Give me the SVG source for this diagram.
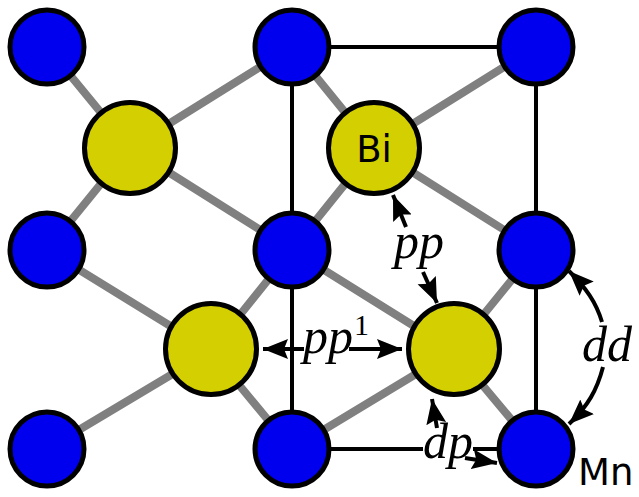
<svg xmlns="http://www.w3.org/2000/svg" width="639" height="497" viewBox="0 0 639 497">
<defs>
<marker id="ah" markerUnits="userSpaceOnUse" markerWidth="28" markerHeight="24" refX="25" refY="12" orient="auto"><path d="M0 2L25 12L0 22L4 12Z" fill="#000"/></marker>
</defs>
<style>
.bond{stroke:#808080;stroke-width:8;fill:none}
.edge{stroke:#000;stroke-width:4;fill:none}
.arr{stroke:#000;stroke-width:4;fill:none;marker-end:url(#ah)}
.mn{fill:#0000ee;stroke:#000;stroke-width:5}
.bi{fill:#d4cf00;stroke:#000;stroke-width:5}
.m{font-family:"Liberation Serif",serif;font-style:italic;font-size:50px;fill:#000}
.l{font-family:"DejaVu Sans",sans-serif;font-size:37px;fill:#000}
</style>
<rect width="639" height="497" fill="#fff"/>
<g id="connectors">
<path class="edge" d="M292 47H536V449H292V47"/>
<path class="bond" d="M47 47L130 148M292 47L130 148M47 250L130 148M292 250L130 148M292 47L374 148M536 47L374 148M292 250L374 148M536 250L374 148M47 250L211 351M292 250L211 351M47 449L211 351M292 449L211 351M292 250L454 351M536 250L454 351M292 449L454 351M536 449L454 351"/>
</g>
<g id="mn1"><circle class="mn" cx="47" cy="47" r="37"/></g>
<g id="mn2"><circle class="mn" cx="292" cy="47" r="37"/></g>
<g id="mn3"><circle class="mn" cx="536" cy="47" r="37"/></g>
<g id="mn4"><circle class="mn" cx="47" cy="250" r="37"/></g>
<g id="mn5"><circle class="mn" cx="292" cy="250" r="37"/></g>
<g id="mn6"><circle class="mn" cx="536" cy="250" r="37"/></g>
<g id="mn7"><circle class="mn" cx="47" cy="449" r="37"/></g>
<g id="mn8"><circle class="mn" cx="292" cy="449" r="37"/></g>
<g id="mn9"><circle class="mn" cx="536" cy="449" r="37"/><text class="l" x="578" y="485">Mn</text></g>
<g id="bi1"><circle class="bi" cx="130" cy="148" r="45.5"/></g>
<g id="bi2"><circle class="bi" cx="374" cy="148" r="45.5"/><text class="l" x="374" y="162" text-anchor="middle">Bi</text></g>
<g id="bi3"><circle class="bi" cx="211" cy="349" r="45.5"/></g>
<g id="bi4"><circle class="bi" cx="454" cy="349" r="45.5"/></g>
<g id="labels">
<path class="arr" d="M304 349H263"/>
<path class="arr" d="M349 349H402"/>
<text class="m" x="303" y="353">pp</text>
<text x="354" y="335" font-family="Liberation Serif,serif" font-size="30" fill="#000">1</text>
<path class="arr" d="M406 227L393 195"/>
<path class="arr" d="M423 272L437 303"/>
<text class="m" x="394" y="258">pp</text>
<rect x="423" y="436" width="50" height="26" fill="#fff"/>
<path class="arr" d="M437 428L432 399"/>
<path class="arr" d="M465 458L497 463"/>
<text class="m" x="423" y="458">dp</text>
<path class="arr" d="M602 322C596 302 586 288 569 271"/>
<path class="arr" d="M603 367C597 390 588 406 569 424"/>
<text class="m" x="582" y="361">dd</text>
</g>
</svg>
